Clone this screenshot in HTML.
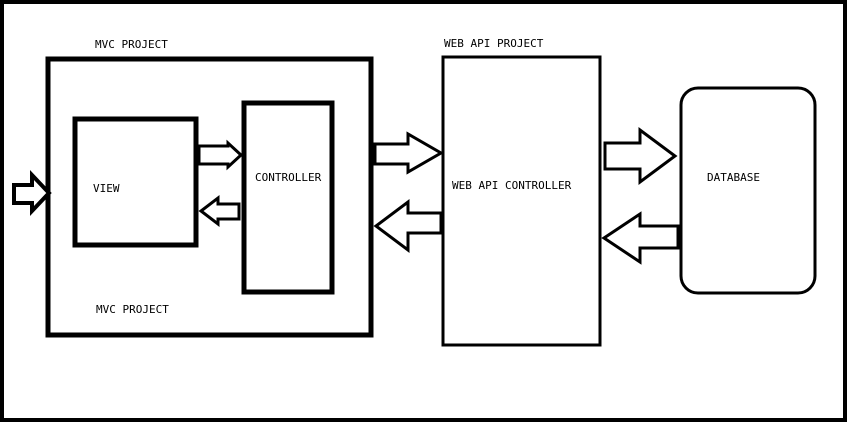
<!DOCTYPE html>
<html><head><style>
html,body{margin:0;padding:0;background:#fff;}
svg{display:block;}
text{font-family:"DejaVu Sans Mono","Liberation Mono",monospace;font-size:11px;fill:#000;}
</style></head><body>
<svg width="849" height="445" viewBox="0 0 849 445" xmlns="http://www.w3.org/2000/svg">
<rect x="2" y="2" width="843" height="418" fill="#fff" stroke="#000" stroke-width="4"/>
<g fill="none" stroke="#000">
<rect x="48" y="59" width="323" height="276" stroke-width="5"/>
<rect x="75" y="119" width="121" height="126" stroke-width="5"/>
<rect x="244" y="103" width="88" height="189" stroke-width="5"/>
<rect x="443" y="57" width="157" height="288" stroke-width="3"/>
<rect x="681" y="88" width="134" height="205" rx="17" stroke-width="3"/>
</g>
<g fill="#fff" stroke="#000" stroke-width="3" stroke-linejoin="miter">
<polygon points="14,185 32,185 32,175 49,193 32,211 32,203 14,203" stroke-width="4"/>
<polygon points="199,146 228,146 228,143 241,155 228,167 228,164 199,164"/>
<polygon points="239,204 218,204 218,198 201,211 218,224 218,219 239,219"/>
<polygon points="375,144 408,144 408,134 441,153 408,172 408,164 375,164"/>
<polygon points="441,213 408,213 408,202 376,226 408,250 408,233 441,233"/>
<polygon points="605,143 640,143 640,130 675,156 640,182 640,169 605,169"/>
<polygon points="678,226 640,226 640,214 604,238 640,262 640,248 678,248"/>
</g>
<text x="95" y="48">MVC PROJECT</text>
<text x="444" y="47">WEB API PROJECT</text>
<text x="93" y="192">VIEW</text>
<text x="255" y="181">CONTROLLER</text>
<text x="452" y="189">WEB API CONTROLLER</text>
<text x="707" y="181">DATABASE</text>
<text x="96" y="313">MVC PROJECT</text>
</svg>
</body></html>
